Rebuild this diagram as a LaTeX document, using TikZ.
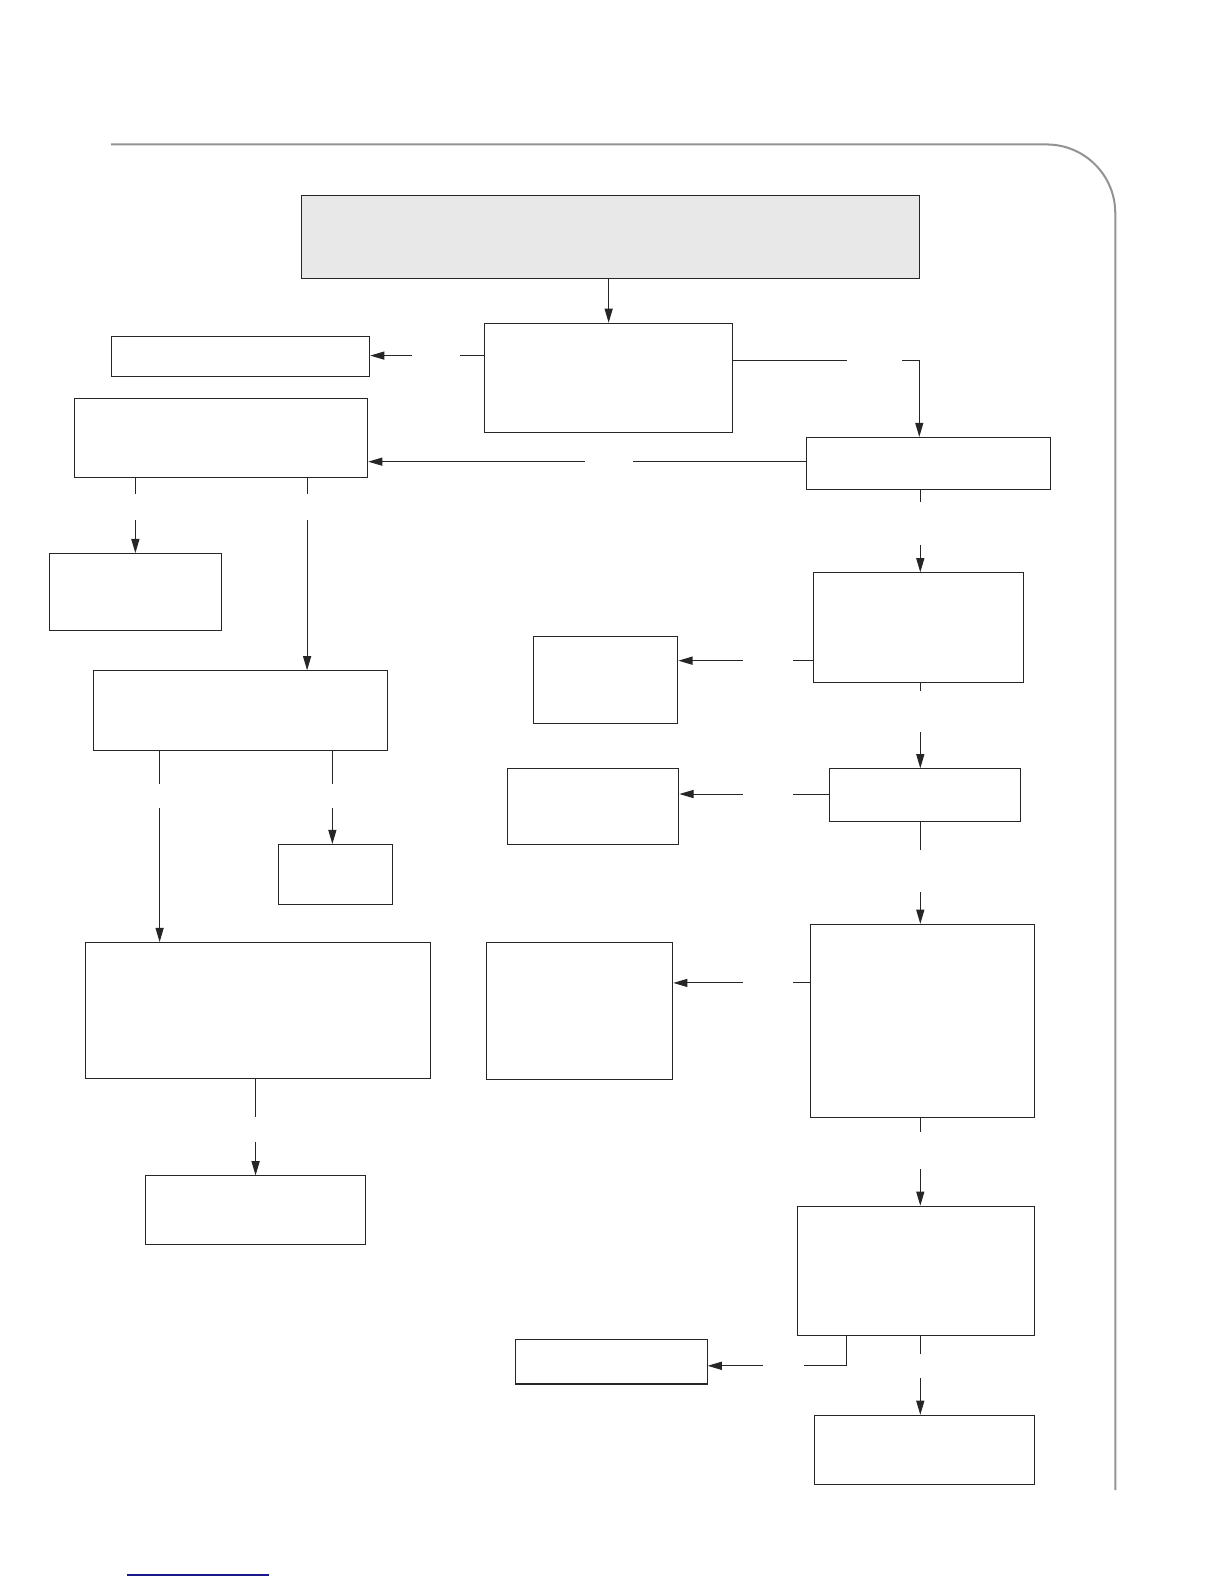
\documentclass[tikz,border=0pt]{standalone}
\usepackage{xcolor}
\usetikzlibrary{arrows.meta}

\definecolor{footblue}{RGB}{25,25,140}

\begin{document}
\begin{tikzpicture}[x=1pt,y=-1pt,
  box/.style={draw=black!85, line width=1pt, inner sep=0pt},
  link/.style={draw=black!85, line width=1pt},
  arr/.style={link, -{Triangle[length=14pt,width=8pt]}}]
\useasboundingbox (0,0) rectangle (1212,1568);

% Page frame
\draw[gray!85, line width=2pt, rounded corners=68pt] (110,143) -- (1104,143) -- (1104,1475);
\draw[footblue, line width=1.5pt] (126,1559) -- (266,1559);

% Boxes
\node[box, fill=gray!18, minimum width=612pt, minimum height=82pt] (top) at (604,235) {};
\node[box, minimum width=245pt, minimum height=108pt] (center) at (602.5,374) {};
\node[box, minimum width=256pt, minimum height=40pt] (left1) at (238,353) {};
\node[box, minimum width=290pt, minimum height=79pt] (left2) at (219,433.5) {};
\node[box, minimum width=242pt, minimum height=52pt] (right1) at (919,459) {};

% Left column
\node[box, minimum width=170pt, minimum height=76pt] (L3) at (134,586) {};
\node[box, minimum width=291pt, minimum height=79pt] (L4) at (238.5,703.5) {};
\node[box, minimum width=113pt, minimum height=59pt] (L5) at (332.5,865.5) {};
\node[box, minimum width=341pt, minimum height=135pt] (L6) at (255.5,1000.5) {};
\node[box, minimum width=218pt, minimum height=68pt] (L7) at (253,1198) {};

% Right column
\node[box, minimum width=208pt, minimum height=109pt] (R2) at (909,621.5) {};
\node[box, minimum width=189pt, minimum height=52pt] (R3) at (915.5,787) {};
\node[box, minimum width=222pt, minimum height=191pt] (R4) at (913,1010.5) {};
\node[box, minimum width=235pt, minimum height=128pt] (R5) at (906.5,1258) {};
\node[box, minimum width=218pt, minimum height=68pt] (R6) at (915,1435) {};

% Middle column
\node[box, minimum width=143pt, minimum height=86pt] (M1) at (599.5,673) {};
\node[box, minimum width=170pt, minimum height=75pt] (M2) at (587,798.5) {};
\node[box, minimum width=184pt, minimum height=136pt] (M3) at (574,1001) {};
\node[box, minimum width=190pt, minimum height=44pt] (M4) at (605,1348) {};

% Gap ends of the connectors
\coordinate (bA) at (455,352);  \coordinate (bB) at (408,352);
\coordinate (cA) at (838,357);  \coordinate (cB) at (893,357);  \coordinate (cC) at (910,357);
\coordinate (dA) at (627,457);  \coordinate (dB) at (579,457);
\coordinate (eA) at (134,489);  \coordinate (eB) at (134,515);
\coordinate (fA) at (304,489);  \coordinate (fB) at (304,515);
\coordinate (gA) at (158,776);  \coordinate (gB) at (158,800);
\coordinate (hA) at (329,776);  \coordinate (hB) at (329,800);
\coordinate (iA) at (253,1106); \coordinate (iB) at (253,1130);
\coordinate (jA) at (911,497);  \coordinate (jB) at (911,539);
\coordinate (kA) at (785,654);  \coordinate (kB) at (735,654);
\coordinate (lA) at (911,684);  \coordinate (lB) at (911,725);
\coordinate (mA) at (785,786);  \coordinate (mB) at (735,786);
\coordinate (nA) at (911,841);  \coordinate (nB) at (911,883);
\coordinate (oA) at (785,973);  \coordinate (oB) at (735,973);
\coordinate (pA) at (911,1121); \coordinate (pB) at (911,1157);
\coordinate (qC) at (838,1352); \coordinate (qA) at (796,1352); \coordinate (qB) at (755,1352);
\coordinate (rA) at (911,1340); \coordinate (rB) at (911,1364);

% Connectors
\draw[arr] (top.south -| center.north) -- (center.north);
\draw[link] (center.west |- bA) -- (bA);
\draw[arr] (bB) -- (left1.east |- bB);
\draw[link] (center.east |- cA) -- (cA);
\draw[arr] (cB) -- (cC) -- (right1.north -| cC);
\draw[link] (right1.west |- dA) -- (dA);
\draw[arr] (dB) -- (left2.east |- dB);

\draw[link] (left2.south -| eA) -- (eA);
\draw[arr] (eB) -- (L3.north -| eB);
\draw[link] (left2.south -| fA) -- (fA);
\draw[arr] (fB) -- (L4.north -| fB);
\draw[link] (L4.south -| gA) -- (gA);
\draw[arr] (gB) -- (L6.north -| gB);
\draw[link] (L4.south -| hA) -- (hA);
\draw[arr] (hB) -- (L5.north -| hB);
\draw[link] (L6.south -| iA) -- (iA);
\draw[arr] (iB) -- (L7.north -| iB);

\draw[link] (right1.south -| jA) -- (jA);
\draw[arr] (jB) -- (R2.north -| jB);
\draw[link] (R2.west |- kA) -- (kA);
\draw[arr] (kB) -- (M1.east |- kB);
\draw[link] (R2.south -| lA) -- (lA);
\draw[arr] (lB) -- (R3.north -| lB);
\draw[link] (R3.west |- mA) -- (mA);
\draw[arr] (mB) -- (M2.east |- mB);
\draw[link] (R3.south -| nA) -- (nA);
\draw[arr] (nB) -- (R4.north -| nB);
\draw[link] (R4.west |- oA) -- (oA);
\draw[arr] (oB) -- (M3.east |- oB);
\draw[link] (R4.south -| pA) -- (pA);
\draw[arr] (pB) -- (R5.north -| pB);
\draw[link] (R5.south -| qC) -- (qC) -- (qA);
\draw[arr] (qB) -- (M4.east |- qB);
\draw[link] (R5.south -| rA) -- (rA);
\draw[arr] (rB) -- (R6.north -| rB);

\end{tikzpicture}
\end{document}
